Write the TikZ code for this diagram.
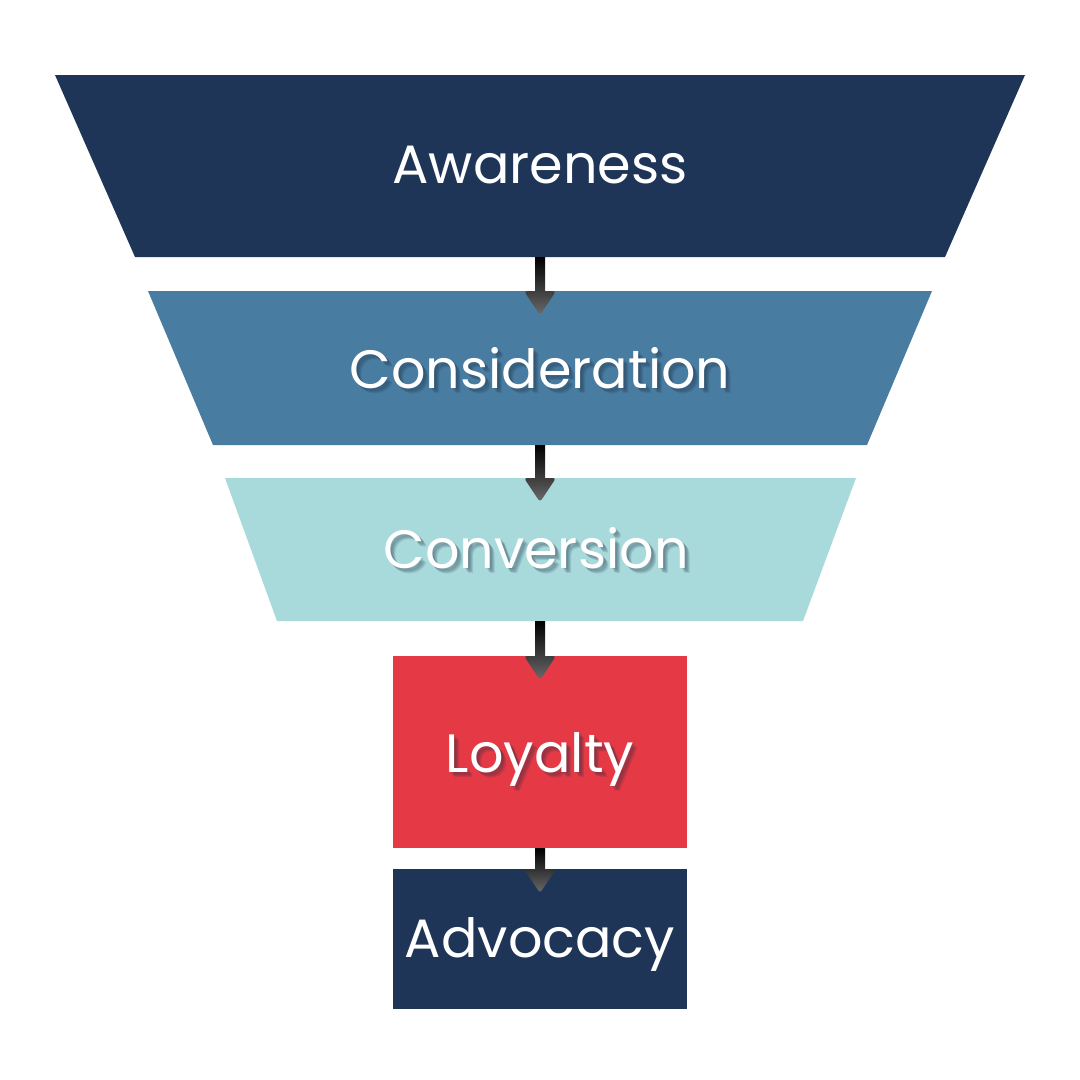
\documentclass[tikz,border=0pt]{standalone}
\usepackage{fontspec}
\setmainfont{Poppins}
\usetikzlibrary{calc}
\definecolor{navy}{HTML}{1E3557}
\definecolor{steel}{HTML}{487CA0}
\definecolor{aqua}{HTML}{A8DADC}
\definecolor{redc}{HTML}{E63946}
\definecolor{tipgray}{HTML}{6A6A6A}
\definecolor{shadowc}{HTML}{1A2A40}
\tikzset{
  label/.style={text=white, font=\fontsize{54}{58}\selectfont, anchor=base, inner sep=0pt},
  shadowtxt/.style={text=shadowc, text opacity=0.13, font=\fontsize{54}{58}\selectfont, anchor=base, inner sep=0pt},
  flowarrow/.style={top color=black, bottom color=tipgray}
}
\newcommand\farrow[2]{%
  \shade[flowarrow] let \p1=(#1), \p2=(#2) in
    (\x1-5pt,\y1) -- (\x1+5pt,\y1) -- (\x1+5pt,\y2+24pt)
    [rounded corners=3pt] -- (\x1+16pt,\y2+24pt) -- (\x2,\y2) -- (\x1-16pt,\y2+24pt)
    [sharp corners] -- (\x1-5pt,\y2+24pt) -- cycle;}
% one shadow node holding several slightly offset copies (soft blur)
\newcommand\blurcopies[1]{%
  \rlap{\hspace*{-1pt}\raisebox{1pt}{#1}}%
  \rlap{\raisebox{-1pt}{#1}}%
  \rlap{\hspace*{1pt}\raisebox{-2pt}{#1}}%
  \rlap{\hspace*{2pt}\raisebox{-3pt}{#1}}%
  \phantom{#1}}
\newcommand\shtext[3]{%
  \node[shadowtxt] (#1-sh) at ($(#2)+(3,2)$) {\blurcopies{#3}};}
\begin{document}
\begin{tikzpicture}[x=1pt,y=-1pt]
\useasboundingbox (0,0) rectangle (1080,1080);
\fill[white] (0,0) rectangle (1080,1080);
% shapes
\fill[navy]  (55,75) -- (1025,75) -- (945,257) -- (135,257) -- cycle;
\fill[steel] (148,291) -- (932,291) -- (867,445) -- (213,445) -- cycle;
\fill[aqua]  (225,478) -- (856,478) -- (803,621) -- (277,621) -- cycle;
\fill[redc]  (393,656) rectangle (687,848);
\fill[navy]  (393,869) rectangle (687,1009);
% anchor coordinates
\coordinate (awB) at (540,257);
\coordinate (coT) at (540,315);
\coordinate (coB) at (540,445);
\coordinate (cvT) at (540,502);
\coordinate (cvB) at (540,621);
\coordinate (loT) at (540,680);
\coordinate (loB) at (540,848);
\coordinate (adT) at (540,893);
% arrows
\farrow{awB}{coT}
\farrow{coB}{cvT}
\farrow{cvB}{loT}
\farrow{loB}{adT}
% label baselines
\coordinate (awC) at (540,183);
\coordinate (coC) at (540,388);
\coordinate (cvC) at (536,568);
\coordinate (loC) at (540,772);
\coordinate (adC) at (540,957);
\shtext{co}{coC}{Consideration}
\shtext{cv}{cvC}{Conversion}
\shtext{lo}{loC}{Loyalty}
\node[label] (aw) at (awC) {Awareness};
\node[label] (co) at (coC) {Consideration};
\node[label] (cv) at (cvC) {Conversion};
\node[label] (lo) at (loC) {Loyalty};
\node[label] (ad) at (adC) {Advocacy};
\end{tikzpicture}
\end{document}
